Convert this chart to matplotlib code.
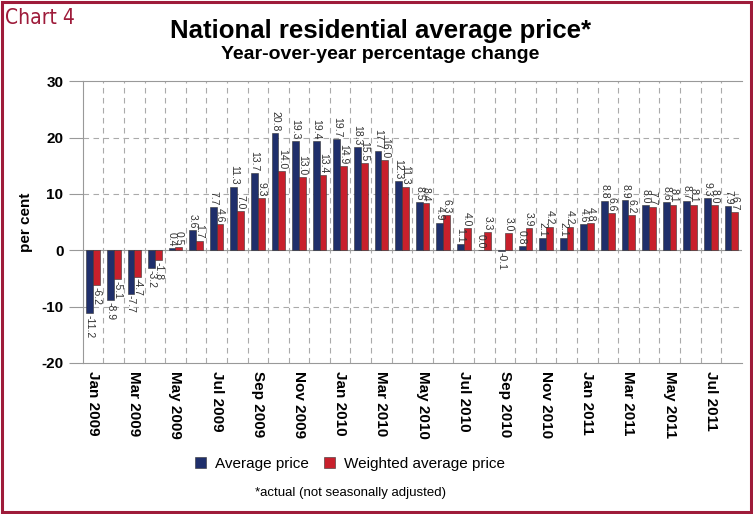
import matplotlib.pyplot as plt
import numpy as np
from matplotlib.patches import Rectangle

plt.rcParams['font.family'] = ['Liberation Sans', 'DejaVu Sans']

months = ['Jan 2009', 'Feb 2009', 'Mar 2009', 'Apr 2009', 'May 2009', 'Jun 2009',
          'Jul 2009', 'Aug 2009', 'Sep 2009', 'Oct 2009', 'Nov 2009', 'Dec 2009',
          'Jan 2010', 'Feb 2010', 'Mar 2010', 'Apr 2010', 'May 2010', 'Jun 2010',
          'Jul 2010', 'Aug 2010', 'Sep 2010', 'Oct 2010', 'Nov 2010', 'Dec 2010',
          'Jan 2011', 'Feb 2011', 'Mar 2011', 'Apr 2011', 'May 2011', 'Jun 2011',
          'Jul 2011', 'Aug 2011']
avg_price = [-11.2, -8.9, -7.7, -3.2, 0.4, 3.6, 7.7, 11.3, 13.7, 20.8, 19.3, 19.4,
             19.7, 18.3, 17.7, 12.3, 8.5, 4.9, 1.1, 0.0, -0.1, 0.8, 2.1, 2.1,
             4.6, 8.8, 8.9, 8.0, 8.6, 8.7, 9.3, 7.9]
weighted_price = [-6.2, -5.1, -4.7, -1.8, 0.5, 1.7, 4.6, 7.0, 9.3, 14.0, 13.0, 13.4,
                  14.9, 15.5, 16.0, 11.3, 8.4, 6.3, 4.0, 3.3, 3.0, 3.9, 4.2, 4.2,
                  4.8, 6.6, 6.2, 7.7, 8.1, 8.1, 8.0, 6.7]

navy = '#1f2f6b'
red = '#c8202c'
maroon = '#9e1b3a'

fig = plt.figure(figsize=(7.53, 5.14), dpi=100)
ax = fig.add_axes([0.110, 0.294, 0.875, 0.548])

x = np.arange(len(months))
w = 0.33
b1 = ax.bar(x - w / 2, avg_price, w, color=navy, edgecolor='#333333', linewidth=0.4,
            label='Average price', zorder=3)
b2 = ax.bar(x + w / 2, weighted_price, w, color=red, edgecolor='#333333', linewidth=0.4,
            label='Weighted average price', zorder=3)

# rotated value labels (they overlap in the original too)
for bars in [b1, b2]:
    for bar in bars:
        h = bar.get_height()
        xc = bar.get_x() + bar.get_width() / 2
        if h >= 0:
            ax.text(xc, h + 0.3, f'{h:.1f}', rotation=-90, ha='center', va='bottom',
                    fontsize=7.5, color='#333333', zorder=4)
        else:
            ax.text(xc, h - 0.3, f'{h:.1f}', rotation=-90, ha='center', va='top',
                    fontsize=7.5, color='#333333', zorder=4)

ax.set_xlim(-0.5, len(months) - 0.5)
ax.set_ylim(-20, 30)
ax.set_yticks([-20, -10, 0, 10, 20, 30])
ax.set_yticklabels(['-20', '-10', '0', '10', '20', '30'], fontsize=11, fontweight='bold')
ax.set_ylabel('per cent', fontsize=11, fontweight='bold', labelpad=6)

ax.set_xticks(x[::2])
ax.set_xticklabels(months[::2], rotation=-90, fontsize=11, fontweight='bold')
ax.tick_params(axis='x', length=0, pad=6)
ax.tick_params(axis='y', length=10, color='#999999', pad=4)

# dashed grid
for yv in [-10, 10, 20]:
    ax.axhline(yv, color='#aaaaaa', linestyle=(0, (5, 4)), linewidth=0.8, zorder=1)
for xv in x[1:] - 0.5:
    ax.axvline(xv, color='#aaaaaa', linestyle=(0, (5, 4)), linewidth=0.8, zorder=1)
ax.axhline(0, color='#999999', linewidth=0.8, zorder=2)

for side in ['left', 'bottom', 'top', 'right']:
    ax.spines[side].set_color('#999999')
    ax.spines[side].set_linewidth(0.8)
ax.spines['right'].set_visible(False)

# titles
fig.text(0.007, 0.965, 'Chart 4', fontsize=15, color=maroon, fontstretch='condensed',
         family=['DejaVu Sans'], ha='left', va='center')
fig.text(0.505, 0.94, 'National residential average price*', fontsize=18.5,
         fontweight='bold', ha='center', va='center')
fig.text(0.505, 0.893, 'Year-over-year percentage change', fontsize=14,
         fontweight='bold', ha='center', va='center')

fig.legend(handles=[b1, b2], loc='center', bbox_to_anchor=(0.465, 0.098), ncol=2,
           frameon=False, fontsize=11, handlelength=0.7, handleheight=0.7,
           columnspacing=1.0, handletextpad=0.6)
fig.text(0.465, 0.04, '*actual (not seasonally adjusted)', fontsize=9.5,
         ha='center', va='center')

fig.patches.append(Rectangle((0.003, 0.004), 0.994, 0.992, transform=fig.transFigure,
                             fill=False, edgecolor=maroon, linewidth=2.2))

fig.savefig('out.png', dpi=100)
